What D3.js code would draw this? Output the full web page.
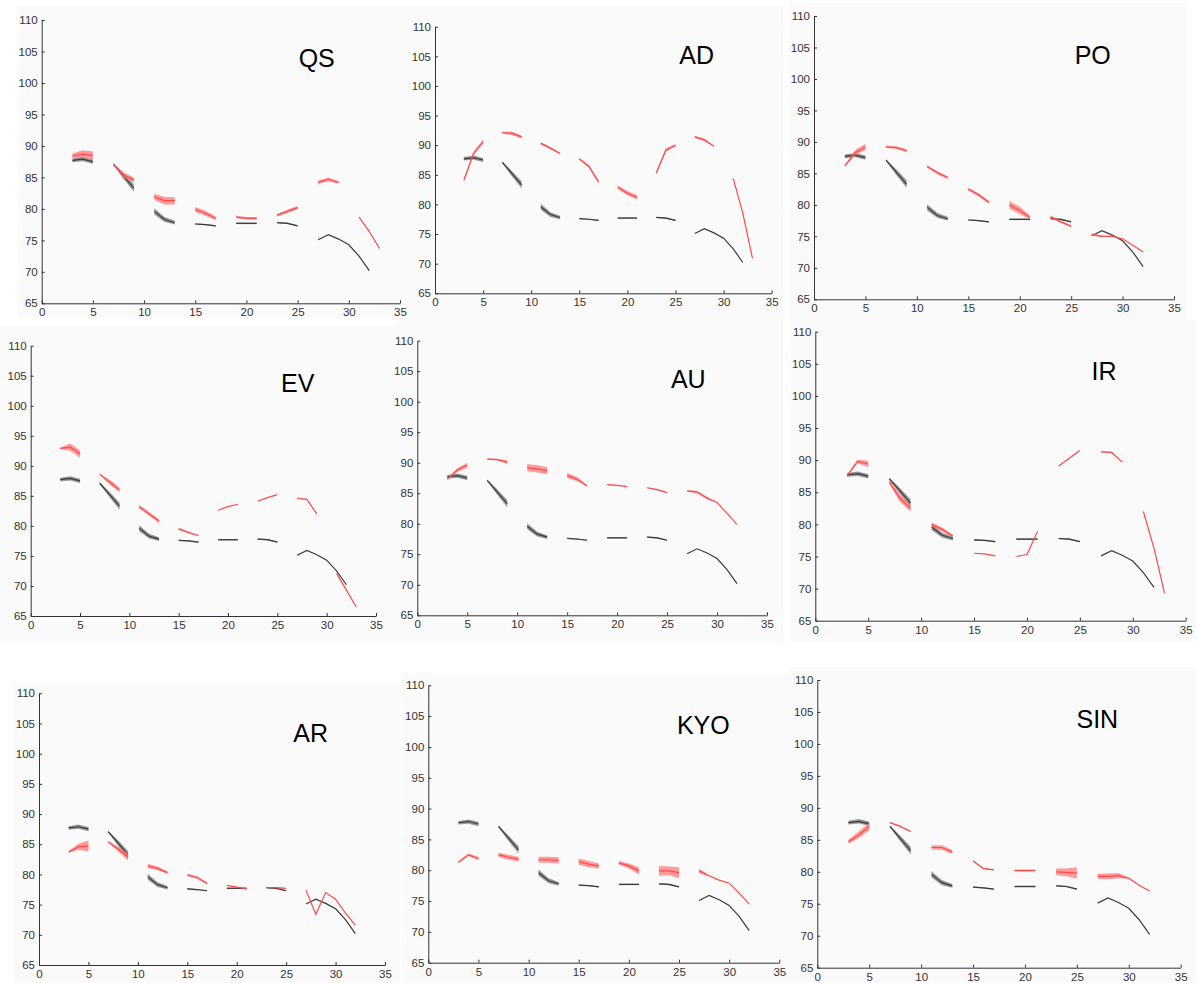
<!DOCTYPE html>
<html><head><meta charset="utf-8">
<script src="https://cdn.jsdelivr.net/npm/d3@7"></script>
<style>body{margin:0;background:#fff}svg{display:block}</style>
</head><body>
<script>
// ---------- data ----------
const panelNames = ["QS","AD","PO","EV","AU","IR","AR","KYO","SIN"];
const xTicks = [0,5,10,15,20,25,30,35];
const yTicks = [65,70,75,80,85,90,95,100,105,110];

const joinedX = [[3,4,5],[7,8,9],[11,12,13],[15,16,17],[19,20,21],[23,24,25],[27,28,29,30,31,32]];
const splitX  = [[3,4,5],[7,8,9],[11,12,13],[15,16,17],[19,20,21],[23,24,25],[27,28,29],[31,32,33]];

// reference (black) series — same in every panel
const refMean = [[87.7,87.9,87.5],[87.1,85.2,83.3],[79.6,78.3,77.8],[77.6,77.5,77.3],[77.7,77.7,77.7],[77.8,77.7,77.3],[75.1,75.9,75.2,74.3,72.5,70.2]];
const refErr  = [[0.3,0.35,0.35],[0.15,0.45,0.6],[0.5,0.4,0.3],[0.1,0.1,0.1],[0.12,0.12,0.12],[0.1,0.12,0.1],[0,0,0,0,0,0]];

// red series per panel
const redLayout = ["split","split","joined","split","joined","split","joined","joined","joined"];
const redMean = [
 [[88.4,88.7,88.5],[87.1,85.4,84.6],[81.9,81.3,81.3],[79.9,79.3,78.5],[78.7,78.5,78.5],[79.0,79.6,80.2],[84.2,84.7,84.2],[78.7,76.4,73.7]],
 [[84.1,88.6,90.6],[92.1,92.0,91.4],[90.3,89.5,88.6],[87.7,86.4,83.8],[82.9,81.9,81.2],[85.3,89.2,90.0],[91.4,90.9,89.8],[84.4,78.5,70.9]],
 [[86.2,88.3,89.2],[89.2,89.1,88.6],[86.1,85.1,84.3],[82.5,81.6,80.4],[80.0,79.1,78.0],[78.1,77.3,76.6],[75.3,75.0,75.0,74.6,73.6,72.5]],
 [[92.9,93.1,92.0],[88.6,87.3,86.0],[83.2,82.0,80.8],[79.5,78.9,78.4],[82.6,83.2,83.6],[84.1,84.7,85.2],[84.6,84.4,82.0],[72.1,69.3,66.5]],
 [[87.3,88.8,89.6],[90.6,90.5,90.1],[89.2,89.0,88.7],[87.9,87.3,86.2],[86.4,86.3,86.1],[85.9,85.6,85.1],[85.4,85.2,84.2,83.5,81.7,79.9]],
 [[87.6,89.8,89.4],[86.6,84.1,82.5],[80.0,79.2,78.2],[75.5,75.4,75.1],[75.0,75.3,78.9],[89.1,90.3,91.5],[91.3,91.2,89.7],[82.0,76.3,69.3]],
 [[83.7,84.6,84.7],[85.4,84.2,82.9],[81.4,81.0,80.3],[79.9,79.5,78.5],[78.2,77.9,77.6],[77.8,77.8,77.7],[77.4,73.4,77.0,75.9,73.6,71.6]],
 [[81.3,82.5,81.9],[82.5,82.1,81.8],[81.7,81.7,81.6],[81.4,81.0,80.7],[81.2,80.7,79.9],[79.9,79.9,79.6],[79.9,79.1,78.4,77.9,76.3,74.5]],
 [[84.7,85.8,87.1],[87.7,87.1,86.3],[83.8,83.8,83.1],[81.7,80.5,80.3],[80.2,80.2,80.2],[80.0,79.9,79.8],[79.3,79.3,79.4,79.0,77.9,77.0]]
];
const redErr = [
 [[0.4,0.6,0.6],[0.1,0.4,0.4],[0.5,0.6,0.6],[0.4,0.4,0.3],[0.2,0.2,0.2],[0.2,0.25,0.25],[0.25,0.3,0.2],[0,0,0]],
 [[0.3,0.3,0.3],[0.15,0.3,0.25],[0.2,0.2,0.15],[0.15,0.25,0.25],[0.3,0.35,0.35],[0.25,0.3,0.2],[0.2,0.25,0.1],[0,0,0]],
 [[0.15,0.4,0.5],[0.15,0.2,0.25],[0.2,0.25,0.25],[0.2,0.25,0.25],[0.6,0.6,0.3],[0.2,0.2,0.15],[0.2,0.1,0.05,0,0,0]],
 [[0.15,0.6,0.6],[0.05,0.4,0.4],[0.3,0.3,0.3],[0.2,0.15,0.1],[0,0,0],[0,0,0],[0.1,0.1,0],[0,0,0]],
 [[0.1,0.3,0.4],[0.1,0.15,0.3],[0.6,0.6,0.6],[0.4,0.35,0.1],[0.05,0.05,0.05],[0.05,0.1,0.05],[0.1,0.2,0.2,0,0,0]],
 [[0.1,0.3,0.5],[0.3,0.6,0.5],[0.3,0.3,0.2],[0,0,0],[0,0,0],[0,0,0],[0.1,0.1,0],[0,0,0]],
 [[0.15,0.5,0.9],[0.1,0.4,0.6],[0.35,0.3,0.2],[0.2,0.2,0.15],[0.05,0.05,0.05],[0.05,0.05,0.05],[0,0,0,0,0,0]],
 [[0.15,0.2,0.3],[0.35,0.4,0.4],[0.5,0.5,0.5],[0.5,0.5,0.4],[0.3,0.4,0.6],[0.8,0.7,0.9],[0.4,0.1,0,0,0,0]],
 [[0.3,0.5,0.6],[0.1,0.1,0.1],[0.35,0.35,0.3],[0.1,0.1,0.1],[0.15,0.15,0.15],[0.5,0.6,0.9],[0.4,0.45,0.4,0.1,0,0]]
];

// ---------- layout (pixels) ----------
const layout = [
 {axL:41.7, axR:400,   axT:20,    axB:303.3, bg:[18,7,407,318],     tx:316.7, ty:58},
 {axL:435,  axR:771.7, axT:26.7,  axB:293.3, bg:[407,7,783,318],    tx:696.7, ty:55},
 {axL:814,  axR:1174,  axT:16,    axB:299.3, bg:[789,3,1187,320],   tx:1092.7,ty:55},
 {axL:30.7, axR:376,   axT:345.7, axB:616,   bg:[0,326,397,643],    tx:297.7, ty:383.3},
 {axL:417.3,axR:767,   axT:340.7, axB:615.3, bg:[395,318,783,643],  tx:688.3, ty:379.3},
 {axL:815.3,axR:1185.7,axT:331.7, axB:620.7, bg:[790,320,1196,642], tx:1104,  ty:371},
 {axL:39,   axR:385,   axT:693.3, axB:965,   bg:[13,681,400,983],   tx:310.7, ty:732.7},
 {axL:428.3,axR:779.3, axT:685.3, axB:962.7, bg:[402,673,790,983],  tx:703.3, ty:725},
 {axL:817.3,axR:1180.7,axT:680,   axB:967.7, bg:[790,667,1196,983], tx:1097.3,ty:719.3}
];

const svg = d3.select("body").append("svg").attr("width",1196).attr("height",983);
const FONT = "Liberation Sans, Arial, sans-serif";

panelNames.forEach((name,i)=>{
  const L = layout[i];
  const g = svg.append("g");
  g.append("rect").attr("x",L.bg[0]).attr("y",L.bg[1])
    .attr("width",L.bg[2]-L.bg[0]).attr("height",L.bg[3]-L.bg[1]).attr("fill","#fafafa");

  const x = d3.scaleLinear().domain([0,35]).range([L.axL,L.axR]);
  const y = d3.scaleLinear().domain([65,110]).range([L.axB,L.axT]);

  const xAxis = g.append("g").attr("transform",`translate(0,${L.axB})`)
    .call(d3.axisBottom(x).tickValues(xTicks).tickSizeInner(-3).tickSizeOuter(0).tickPadding(5));
  const yAxis = g.append("g").attr("transform",`translate(${L.axL},0)`)
    .call(d3.axisLeft(y).tickValues(yTicks).tickSizeInner(-3).tickSizeOuter(0).tickPadding(4));
  [xAxis,yAxis].forEach(a=>{
    a.selectAll("path").attr("stroke","#333").attr("stroke-width",1);
    a.selectAll("line").attr("stroke","#333");
    a.selectAll("text").attr("fill","#333").style("font-family",FONT).style("font-size","11.5px");
  });

  function drawSeries(xsArr, means, errs, lineCol, bandCol, bandOp){
    xsArr.forEach((xs,k)=>{
      const pts = xs.map((xv,j)=>({x:xv, m:means[k][j], e:errs[k][j]}));
      if (pts.some(p=>p.e>0)) {
        g.append("path").datum(pts)
          .attr("d", d3.area().x(p=>x(p.x)).y0(p=>y(p.m-p.e)).y1(p=>y(p.m+p.e)))
          .attr("fill",bandCol).attr("fill-opacity",bandOp).attr("stroke","none");
      }
      g.append("path").datum(pts)
        .attr("d", d3.line().x(p=>x(p.x)).y(p=>y(p.m)))
        .attr("fill","none").attr("stroke",lineCol).attr("stroke-width",1.2);
    });
  }
  drawSeries(joinedX, refMean, refErr, "#3a3a3a", "#777777", 0.75);
  const rx = redLayout[i]==="split" ? splitX : joinedX;
  drawSeries(rx, redMean[i], redErr[i], "#ff4a4a", "#ff7070", 0.7);

  g.append("text").attr("x",L.tx).attr("y",L.ty).attr("text-anchor","middle")
    .attr("dominant-baseline","central").style("font-family",FONT).style("font-size","25px")
    .attr("fill","#000").text(name);
});
</script>
</body></html>
